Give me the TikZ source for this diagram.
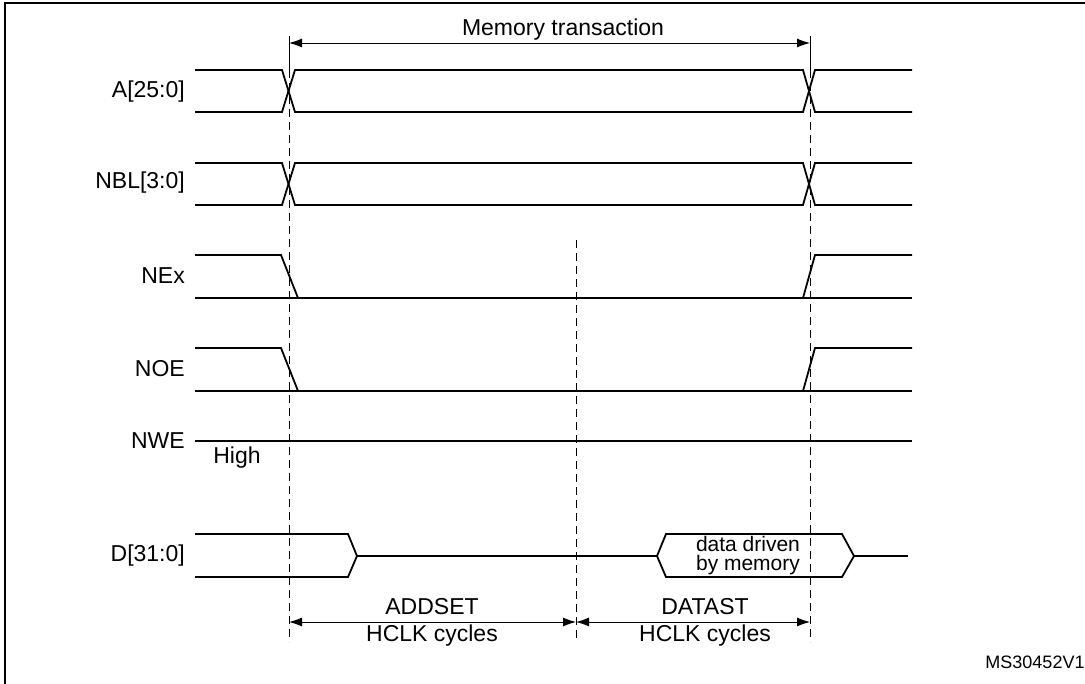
\documentclass[tikz,border=0pt]{standalone}
\usepackage{fontspec}
\setmainfont{Liberation Sans}
\usetikzlibrary{arrows.meta}
\begin{document}
\begin{tikzpicture}[x=1pt,y=-1pt,
  sig/.style={line width=1.8pt},
  dsh/.style={dash pattern=on 8pt off 5pt,line width=0.9pt},
  dim/.style={line width=0.9pt,{Latex[length=13pt,width=9pt]}-{Latex[length=13pt,width=9pt]}},
  lbl/.style={font=\fontsize{23}{25}\selectfont,anchor=east,inner sep=0},
  txt/.style={font=\fontsize{23}{23}\selectfont,inner sep=0}]
\useasboundingbox (0,0) rectangle (1085,684);
\draw[line width=1.4pt] (5,684) -- (5,3) -- (1085,3);
% labels
\node[lbl] (la) at (185,92) {A[25:0]};
\node[lbl] (lb) at (185,183) {NBL[3:0]};
\node[lbl] (lc) at (185,276) {NEx};
\node[lbl] (ld) at (185,369) {NOE};
\node[lbl] (le) at (185,441) {NWE};
\node[txt] (lh) at (237,458) {High};
\node[lbl] (lf) at (185,556) {D[31:0]};
% bus signals
\foreach \t/\b in {70/112,163/205}{
  \draw[sig] (195,\t) -- (282,\t) -- (295,\b) -- (803,\b) -- (815,\t) -- (912,\t);
  \draw[sig] (195,\b) -- (282,\b) -- (295,\t) -- (803,\t) -- (815,\b) -- (912,\b);
}
\foreach \t/\b in {255/298,348/391}{
  \draw[sig] (195,\t) -- (281,\t) -- (298,\b) -- (803,\b) -- (815,\t) -- (912,\t);
  \draw[sig] (195,\b) -- (912,\b);
}
\draw[sig] (195,441) -- (912,441);
\draw[sig] (195,534) -- (348,534) -- (357,556) -- (348,577) -- (195,577);
\draw[sig] (357,556) -- (657,556);
\draw[sig] (657,556) -- (666,534) -- (842,534) -- (854,556) -- (842,577) -- (666,577) -- cycle;
\draw[sig] (854,556) -- (908,556);
\node[txt,align=center,font=\fontsize{21}{19}\selectfont] (dd) at (748,556) {data driven\\by memory};
% dashed
\coordinate (t1) at (289,43); \coordinate (b1) at (289,642);
\coordinate (t2) at (576,240); \coordinate (b2) at (576,642);
\coordinate (t3) at (810,43); \coordinate (b3) at (810,642);
\draw[line width=0.9pt] (289,36) -- (289,70);
\draw[line width=0.9pt] (810,36) -- (810,70);
\draw[dsh] (289,70) -- (b1);
\draw[dsh] (t2) -- (b2);
\draw[dsh] (810,70) -- (b3);
% dimension arrows
\draw[dim] (t1) -- (t3);
\node[txt] (mt) at (563,30) {Memory transaction};
\coordinate (a1) at (289,622); \coordinate (a2) at (576,622); \coordinate (a3) at (810,622);
\draw[dim] (a1) -- (a2);
\draw[dim] (a2) -- (a3);
\node[txt] (ad) at (432,607) {ADDSET};
\node[txt] (h1) at (432,636) {HCLK cycles};
\node[txt] (dt) at (705,607) {DATAST};
\node[txt] (h2) at (705,636) {HCLK cycles};
\node[txt,font=\fontsize{18}{18}\selectfont] (ms) at (1035,662) {MS30452V1};
\end{tikzpicture}
\end{document}
